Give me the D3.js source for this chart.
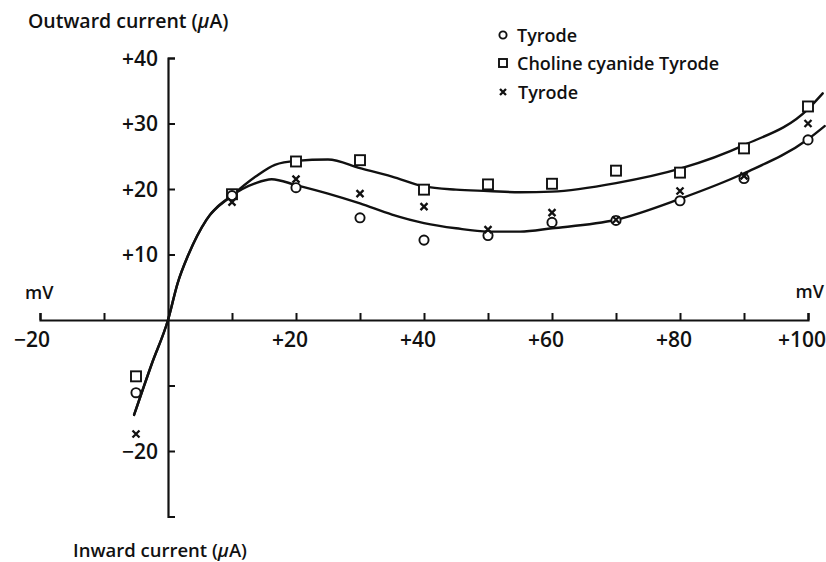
<!DOCTYPE html>
<html>
<head>
<meta charset="utf-8">
<script src="https://cdn.jsdelivr.net/npm/d3@7"></script>
<style>
  html, body { margin: 0; padding: 0; background: #fff; }
  svg text { font-family: "Open Sans", Lato, sans-serif; fill: #111; font-weight: 600; }
</style>
</head>
<body>
<svg id="chart" width="826" height="562"></svg>
<script>
// ---- data ----
const voltages = [-5, 10, 20, 30, 40, 50, 60, 70, 80, 90, 100];
const tyrodeCircles = [-11.1, 19.0, 20.2, 15.6, 12.2, 12.9, 14.9, 15.2, 18.2, 21.6, 27.5];
const cholineSquares = [-8.6, 19.2, 24.2, 24.4, 19.9, 20.7, 20.8, 22.8, 22.5, 26.2, 32.6];
const tyrodeCrosses = [-17.4, 18.0, 21.5, 19.3, 17.3, 13.8, 16.4, 15.3, 19.7, 22.0, 30.0];

// hand-drawn curves (knots)
const risingV = [-5.3, -2.5, 0, 1.5, 3.2, 6, 10];
const risingI = [-14.5, -6.6, 0, 5.6, 10, 15.3, 19];
const upperV = [13.7, 16.7, 20, 25, 30, 35, 40, 45, 50, 55, 60, 70, 80, 90, 100, 102.3];
const upperI = [21.9, 23.7, 24.3, 24.5, 23.2, 21.9, 20.4, 19.9, 19.7, 19.5, 19.6, 20.9, 23.1, 26.7, 32.2, 34.6];
const lowerV = [13.7, 16.2, 20, 25, 30, 35, 40, 45, 50, 55, 60, 70, 80, 90, 100, 102.6];
const lowerI = [20.9, 21.5, 20.6, 19.3, 17.8, 16.1, 14.8, 14.0, 13.5, 13.5, 14.0, 15.3, 18.5, 22.4, 27.6, 29.6];

const xTicks = [-20, -10, 10, 20, 30, 40, 50, 60, 70, 80, 90, 100];
const xTickLabels = [-20, 20, 40, 60, 80, 100];
const yTicks = [-30, -20, -10, 10, 20, 30, 40];
const yTickLabels = [40, 30, 20, 10, -20];
const legendLabels = ["Tyrode", "Choline cyanide Tyrode", "Tyrode"];

// ---- scales ----
const x = d3.scaleLinear().domain([-20, 100]).range([40, 808]);
const y = d3.scaleLinear().domain([-30, 40]).range([516.5, 58]);

const svg = d3.select("#chart");
const fmt = v => (v > 0 ? "+" : v < 0 ? "\u2212" : "") + Math.abs(v);

// ---- axes ----
const xAxis = d3.axisTop(x).tickValues(xTicks).tickSize(7).tickSizeOuter(7).tickFormat("");
const gx = svg.append("g").attr("transform", `translate(0,${y(0)})`).call(xAxis);
const yAxis = d3.axisRight(y).tickValues(yTicks).tickSize(7).tickSizeOuter(7).tickFormat("");
const gy = svg.append("g").attr("transform", `translate(${x(0)},0)`).call(yAxis);
[gx, gy].forEach(g => {
  g.selectAll("path.domain").attr("stroke", "#111").attr("stroke-width", 2.2);
  g.selectAll(".tick line").attr("stroke", "#111").attr("stroke-width", 2);
});

svg.selectAll("text.xl").data(xTickLabels).join("text")
  .attr("class", "xl")
  .attr("x", d => d === -20 ? x(d) + 10 : x(d) - 6)
  .attr("y", y(0) + 27)
  .attr("text-anchor", d => d === -20 ? "end" : "middle")
  .attr("font-size", 21)
  .text(fmt);

svg.selectAll("text.yl").data(yTickLabels).join("text")
  .attr("class", "yl")
  .attr("x", x(0) - 10)
  .attr("y", d => y(d) + 7.5)
  .attr("text-anchor", "end")
  .attr("font-size", 21)
  .text(fmt);

// axis titles
const t1 = svg.append("text").attr("x", 28).attr("y", 28).attr("font-size", 19.5);
t1.append("tspan").text("Outward current (");
t1.append("tspan").attr("font-style", "italic").text("\u03bc");
t1.append("tspan").text("A)");
const t2 = svg.append("text").attr("x", 73).attr("y", 557).attr("font-size", 18.5);
t2.append("tspan").text("Inward current (");
t2.append("tspan").attr("font-style", "italic").text("\u03bc");
t2.append("tspan").text("A)");
svg.append("text").attr("x", 25).attr("y", 299).attr("font-size", 18).text("mV");
svg.append("text").attr("x", 824).attr("y", 298).attr("text-anchor", "end").attr("font-size", 18).text("mV");

// ---- curves ----
const line = d3.line().x(d => x(d[0])).y(d => y(d[1])).curve(d3.curveMonotoneX);
const rising = risingV.map((v, i) => [v, risingI[i]]);
const upper = rising.concat(upperV.map((v, i) => [v, upperI[i]]));
const lower = rising.concat(lowerV.map((v, i) => [v, lowerI[i]]));
[upper, lower].forEach(pts => {
  svg.append("path").attr("d", line(pts)).attr("fill", "none")
    .attr("stroke", "#111").attr("stroke-width", 2.4).attr("stroke-linecap", "round");
});

// ---- markers ----
const mk = svg.append("g").attr("stroke", "#111").attr("fill", "#fff");
function circle(g, cx, cy, r) { g.append("circle").attr("cx", cx).attr("cy", cy).attr("r", r).attr("stroke-width", 1.9); }
function square(g, cx, cy, s) { g.append("rect").attr("x", cx - s / 2).attr("y", cy - s / 2).attr("width", s).attr("height", s).attr("stroke-width", 1.9); }
function cross(g, cx, cy, s) {
  g.append("path").attr("d", `M${cx - s},${cy - s}L${cx + s},${cy + s}M${cx + s},${cy - s}L${cx - s},${cy + s}`)
    .attr("stroke-width", 2.3).attr("fill", "none");
}
voltages.forEach((v, i) => square(mk, x(v), y(cholineSquares[i]), 10));
voltages.forEach((v, i) => circle(mk, x(v), y(tyrodeCircles[i]), 4.6));
voltages.forEach((v, i) => cross(mk, x(v), y(tyrodeCrosses[i]), 3.5));

// ---- legend ----
const lg = svg.append("g");
const legY = [35, 63, 92];
circle(lg.append("g").attr("stroke", "#111").attr("fill", "#fff"), 503, legY[0], 3.6);
square(lg.append("g").attr("stroke", "#111").attr("fill", "#fff"), 503, legY[1], 8);
cross(lg.append("g").attr("stroke", "#111"), 503, legY[2], 3);
lg.selectAll("text").data(legendLabels).join("text")
  .attr("x", (d, i) => i === 2 ? 518 : 517)
  .attr("y", (d, i) => legY[i] + 7)
  .attr("font-size", 18)
  .text(d => d);
</script>
</body>
</html>
